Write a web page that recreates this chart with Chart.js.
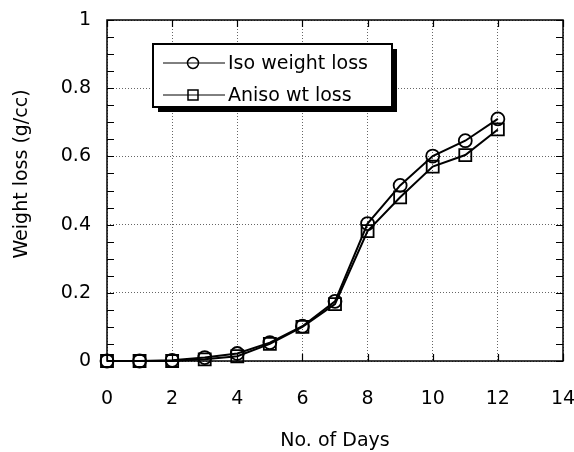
<!DOCTYPE html>
<html>
<head>
<meta charset="utf-8">
<script src="https://cdn.jsdelivr.net/npm/chart.js@4"></script>
<style>
  html, body { margin: 0; padding: 0; background: #fff; }
  #wrap { width: 574px; height: 452px; }
</style>
</head>
<body>
<div id="wrap"><canvas id="lossChart" width="574" height="452"></canvas></div>
<script>
// data
const days = [0, 1, 2, 3, 4, 5, 6, 7, 8, 9, 10, 11, 12];
const isoLoss = [0, 0, 0.002, 0.01, 0.022, 0.054, 0.102, 0.175, 0.403, 0.515, 0.601, 0.646, 0.71];
const anisoLoss = [0, 0, 0, 0.005, 0.014, 0.05, 0.1, 0.167, 0.381, 0.48, 0.57, 0.604, 0.679];
const seriesNames = ["Iso weight loss", "Aniso wt loss"];
const xTitle = "No. of Days";
const yTitle = "Weight loss (g/cc)";

const FONT = "DejaVu Sans";

const toPoints = (ys) => days.map((d, i) => ({ x: d, y: ys[i] }));

// frame, inward ticks, y title and the boxed legend
const decorations = {
  id: "decorations",
  afterDraw(chart) {
    const { ctx, chartArea: a, scales } = chart;
    const xs = scales.x, ys = scales.y;
    ctx.save();
    ctx.strokeStyle = "#000";
    ctx.lineWidth = 1.5;
    ctx.strokeRect(a.left, a.top, a.right - a.left, a.bottom - a.top);

    // tick marks pointing into the plot
    ctx.lineWidth = 1.2;
    ctx.beginPath();
    for (let v = 0; v <= 1.0001; v += 0.05) {
      const py = Math.round(ys.getPixelForValue(v)) + 0.5;
      ctx.moveTo(a.left, py); ctx.lineTo(a.left + 7, py);
      ctx.moveTo(a.right, py); ctx.lineTo(a.right - 7, py);
    }
    for (let v = 0; v <= 14; v += 2) {
      const px = Math.round(xs.getPixelForValue(v)) + 0.5;
      ctx.moveTo(px, a.bottom); ctx.lineTo(px, a.bottom - 7);
      ctx.moveTo(px, a.top); ctx.lineTo(px, a.top + 7);
    }
    ctx.stroke();

    // y axis title
    ctx.fillStyle = "#000";
    ctx.font = "19px '" + FONT + "'";
    ctx.textAlign = "center";
    ctx.textBaseline = "middle";
    ctx.translate(22, 174);
    ctx.rotate(-Math.PI / 2);
    ctx.fillText(yTitle, 0, 0);
    ctx.restore();

    // legend box with shadow
    ctx.save();
    const bx = 153, by = 44, bw = 239, bh = 63;
    ctx.fillStyle = "#000";
    ctx.fillRect(bx + 5, by + 5, bw, bh);
    ctx.fillStyle = "#fff";
    ctx.fillRect(bx, by, bw, bh);
    ctx.strokeStyle = "#000";
    ctx.lineWidth = 2;
    ctx.strokeRect(bx, by, bw, bh);
    ctx.font = "19px '" + FONT + "'";
    ctx.textAlign = "left";
    ctx.textBaseline = "middle";
    chart.data.datasets.forEach((ds, i) => {
      const ry = i === 0 ? 63 : 95;
      ctx.lineWidth = 1;
      ctx.beginPath();
      ctx.moveTo(163, ry); ctx.lineTo(225, ry);
      ctx.stroke();
      ctx.lineWidth = 1.5;
      ctx.beginPath();
      if (ds.pointStyle === "circle") {
        ctx.arc(193, ry, 5.5, 0, Math.PI * 2);
      } else {
        ctx.rect(188, ry - 5, 10, 10);
      }
      ctx.stroke();
      ctx.fillStyle = "#000";
      ctx.fillText(ds.label, 228, ry + 1);
    });
    ctx.restore();
  }
};

new Chart(document.getElementById("lossChart"), {
  type: "line",
  data: {
    datasets: [
      {
        label: seriesNames[0],
        data: toPoints(isoLoss),
        borderColor: "#000",
        borderWidth: 2,
        pointStyle: "circle",
        pointRadius: 6.5,
        pointBorderWidth: 1.8,
        pointBorderColor: "#000",
        pointBackgroundColor: "rgba(0,0,0,0)",
        tension: 0,
        clip: false
      },
      {
        label: seriesNames[1],
        data: toPoints(anisoLoss),
        borderColor: "#000",
        borderWidth: 2,
        pointStyle: "rect",
        pointRadius: 8.5,
        pointBorderWidth: 1.8,
        pointBorderColor: "#000",
        pointBackgroundColor: "rgba(0,0,0,0)",
        tension: 0,
        clip: false
      }
    ]
  },
  options: {
    responsive: false,
    animation: false,
    layout: { padding: { top: 20, right: 11, left: 0, bottom: 0 } },
    plugins: {
      legend: { display: false },
      tooltip: { enabled: false }
    },
    scales: {
      x: {
        type: "linear",
        min: 0,
        max: 14,
        ticks: {
          stepSize: 2,
          padding: 27,
          color: "#000",
          font: { family: FONT, size: 19 }
        },
        grid: { color: "#666", lineWidth: 1, drawTicks: false },
        border: { display: false, dash: [1, 2] },
        title: {
          display: true,
          text: xTitle,
          color: "#000",
          font: { family: FONT, size: 19 },
          padding: { top: 16, bottom: 0 }
        },
        afterFit(scale) {
          scale.height = 91;
          scale.paddingLeft = 0;
          scale.paddingRight = 0;
        }
      },
      y: {
        min: 0,
        max: 1,
        ticks: {
          stepSize: 0.2,
          padding: 16,
          color: "#000",
          font: { family: FONT, size: 19 },
          callback: (v) => (v === 0 || v === 1) ? String(v) : v.toFixed(1)
        },
        grid: { color: "#666", lineWidth: 1, drawTicks: false },
        border: { display: false, dash: [1, 2] },
        afterFit(scale) {
          scale.width = 107;
          scale.paddingTop = 0;
          scale.paddingBottom = 0;
        }
      }
    }
  },
  plugins: [decorations]
});
</script>
</body>
</html>
